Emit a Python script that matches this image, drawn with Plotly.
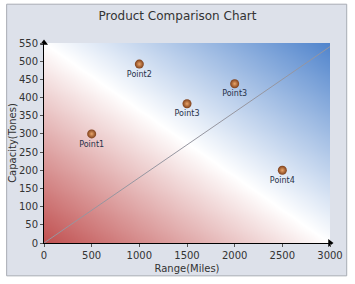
import numpy as np
import plotly.graph_objects as go

title = "Product Comparison Chart"
x_title = "Range(Miles)"
y_title = "Capacity(Tones)"
labels = ["Point1", "Point2", "Point3", "Point3", "Point4"]
range_miles = [500, 1000, 1500, 2000, 2500]
capacity = [300, 492, 383, 438, 200]
trend_x = [0, 3000]
trend_y = [0, 540]
x_max = 3000
y_max = 550

W, H = 355, 284
ml, mr, mt, mb = 42, 22, 43, 40

fig = go.Figure()

# gradient background via smoothed heatmap
gx = np.linspace(0, x_max, 31)
gy = np.linspace(0, y_max, 31)
GX, GY = np.meshgrid(gx, gy)
Z = GX / x_max + GY / y_max
fig.add_trace(go.Heatmap(
    x=gx, y=gy, z=Z, zmin=0, zmax=2, zsmooth="best", showscale=False,
    hoverinfo="skip",
    colorscale=[[0, "rgb(192,80,80)"], [0.5, "rgb(255,255,255)"], [1, "rgb(80,132,204)"]],
))

fig.add_trace(go.Scatter(
    x=trend_x, y=trend_y, mode="lines",
    line=dict(color="rgb(150,150,160)", width=1), hoverinfo="skip",
))

fig.add_trace(go.Scatter(
    x=range_miles, y=capacity, mode="markers+text", text=labels,
    textposition="bottom center",
    textfont=dict(family="DejaVu Sans", size=8, color="#28324a"),
    marker=dict(size=9, color="rgb(125,62,25)",
                gradient=dict(type="radial", color="rgb(235,165,105)"),
                line=dict(width=0)),
))

# axis arrowheads
fig.add_trace(go.Scatter(
    x=[0, x_max], y=[y_max, 0], mode="markers", cliponaxis=False,
    marker=dict(symbol=["triangle-up", "triangle-right"], size=7, color="black"),
    hoverinfo="skip",
))

fig.update_layout(
    width=W, height=H, showlegend=False,
    margin=dict(l=ml, r=mr, t=mt, b=mb),
    paper_bgcolor="white", plot_bgcolor="white",
    title=dict(text=title, x=0.5, xanchor="center", y=1 - 16 / H, yanchor="middle",
               font=dict(family="DejaVu Sans", size=12, color="#333")),
    font=dict(family="DejaVu Sans", size=10, color="#333"),
    shapes=[dict(type="rect", xref="paper", yref="paper", layer="below",
                 x0=-(ml - 4) / (W - ml - mr), x1=1 + (mr - 5) / (W - ml - mr),
                 y0=-(mb - 7) / (H - mt - mb), y1=1 + (mt - 4) / (H - mt - mb),
                 fillcolor="#dde1ea", line=dict(color="#a8acb4", width=1))],
)
fig.update_xaxes(range=[0, x_max], tickvals=list(range(0, x_max + 1, 500)),
                 showgrid=False, zeroline=False, showline=True, linecolor="black",
                 ticks="outside", ticklen=3, tickcolor="#555",
                 title=dict(text=x_title, standoff=4, font=dict(size=10)),
                 tickfont=dict(size=10))
fig.update_yaxes(range=[0, y_max], tickvals=list(range(0, y_max + 1, 50)),
                 showgrid=False, zeroline=False, showline=True, linecolor="black",
                 ticks="outside", ticklen=3, tickcolor="#555",
                 title=dict(text=y_title, standoff=0, font=dict(size=10)),
                 tickfont=dict(size=10))

fig.write_html("out.html")
